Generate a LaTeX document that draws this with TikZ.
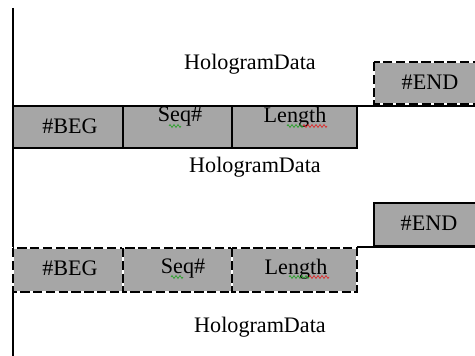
\documentclass[tikz,border=0pt]{standalone}
\usepackage{fontspec}
\setmainfont{Liberation Serif}
\usetikzlibrary{decorations.pathmorphing}
\definecolor{boxgray}{HTML}{A6A6A6}
\definecolor{spellred}{HTML}{E02020}
\definecolor{spellgreen}{HTML}{20A020}
\begin{document}
\begin{tikzpicture}[x=0.75pt,y=-0.75pt,
  lbl/.style={font=\fontsize{16.6}{18}\selectfont, inner sep=0pt, anchor=center},
  solidbox/.style={draw=black, fill=boxgray, line width=1.3pt},
  dashbox/.style={draw=black, line width=1.4pt, dash pattern=on 7pt off 2.6pt},
  whiteedge/.style={draw=white, line width=1.4pt},
  rule/.style={draw=black, line width=0.9pt},
  squig/.style={line width=0.5pt, decorate, decoration={zigzag, amplitude=1.1pt, segment length=3pt}}]
\clip (0,0) rectangle (475,356);
\fill[white] (0,0) rectangle (475,356);
% vertical axis
\coordinate (vtop) at (13,8);
\coordinate (vbot) at (13,360);
\draw[line width=1.5pt] (vtop) -- (vbot);
% ---------- section 1 ----------
\coordinate (r1a) at (13,106);
\coordinate (r1b) at (480,106);
\draw[rule] (r1a) -- (r1b);
% dashed END box
\fill[boxgray] (374,62) rectangle (482,104);
\draw[whiteedge] (374,62) rectangle (482,104);
\draw[dashbox] (374,62) rectangle (482,104);
\node[lbl] (end1) at (430,82) {\#END};
% solid header row
\draw[solidbox] (13,106) rectangle (123,148);
\draw[solidbox] (123,106) rectangle (232,148);
\draw[solidbox] (232,106) rectangle (357,148);
\node[lbl] (beg1) at (70,126) {\#BEG};
\node[lbl] (seq1) at (180,117) {Seq\#};
\node[lbl] (len1) at (295,117) {Length};
\node[lbl] (hd1) at (250,64) {HologramData};
\node[lbl] (hd2) at (255,167) {HologramData};
% squiggles row 1
\draw[squig, spellgreen] (169,126) -- (181,126);
\draw[squig, spellgreen] (287,126) -- (303,126);
\draw[squig, spellred] (303,126) -- (327,126);
% ---------- section 2 ----------
\coordinate (r2a) at (357,247);
\coordinate (r2b) at (480,247);
\draw[rule] (r2a) -- (r2b);
\draw[solidbox] (374,203) rectangle (482,246);
\node[lbl] (end2) at (429,223) {\#END};
% dashed header row
\fill[boxgray] (13,248) rectangle (357,292);
\foreach \xa/\xb in {13/123,123/232,232/357}{
  \draw[whiteedge] (\xa,248) rectangle (\xb,292);
  \draw[dashbox] (\xa,248) rectangle (\xb,292);
}
\node[lbl] (beg2) at (70,268) {\#BEG};
\node[lbl] (seq2) at (183,269) {Seq\#};
\node[lbl] (len2) at (296,269) {Length};
\node[lbl] (hd3) at (260,327) {HologramData};
% squiggles row 2
\draw[squig, spellgreen] (171,277) -- (183,277);
\draw[squig, spellgreen] (289,277) -- (309,277);
\draw[squig, spellred] (309,277) -- (329,277);
\end{tikzpicture}
\end{document}
